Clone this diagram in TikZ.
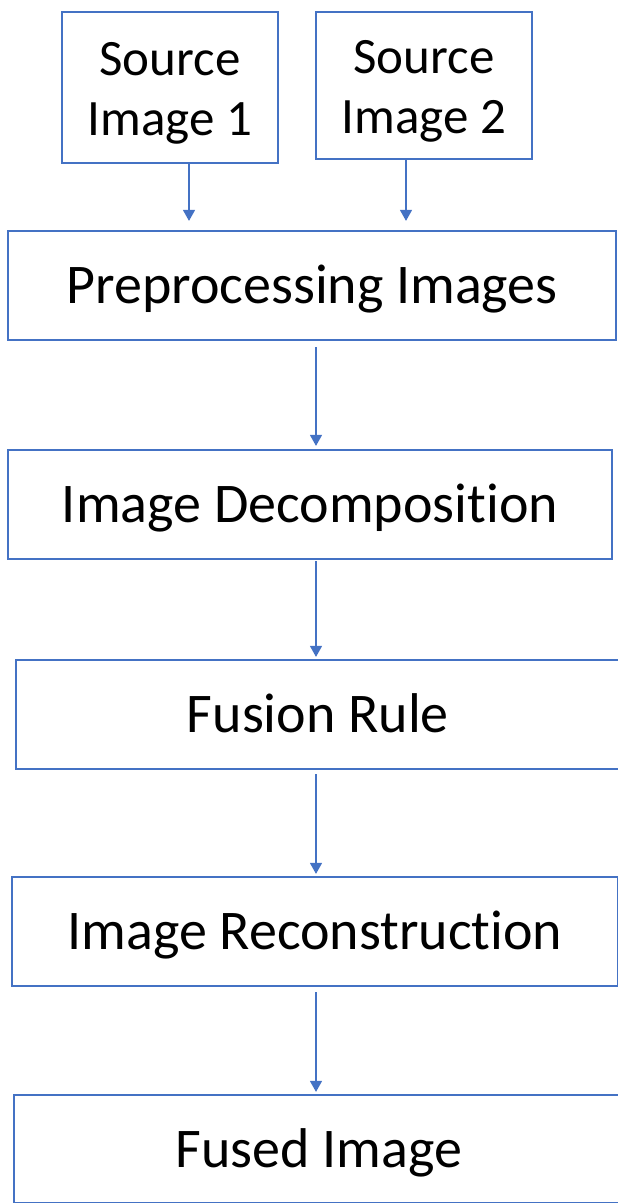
\documentclass[tikz,border=0pt]{standalone}
\usepackage{fontspec}
\setmainfont[RawFeature=-liga]{Carlito}
\usetikzlibrary{arrows.meta}
\definecolor{boxblue}{HTML}{4472C4}
\begin{document}
\begin{tikzpicture}[x=1pt,y=-1pt,
  box/.style={draw=boxblue,line width=2.2pt,inner sep=0pt,align=center,
    font=\fontsize{56}{58}\selectfont,text=black,text height=36pt,text depth=0pt},
  srcbox/.style={box,font=\fontsize{51}{60}\selectfont,minimum width=216pt,
    text height=95pt,text depth=0pt},
  arr/.style={draw=boxblue,line width=1.2pt,-{Triangle[width=12pt,length=11pt]}}]
\useasboundingbox (0,0) rectangle (618,1203);
\node[srcbox,minimum height=151pt] (src1) at (170,87.5) {Source\\Image 1};
\node[srcbox,minimum height=147pt] (src2) at (424,85.5) {Source\\Image 2};
\node[box,minimum width=608pt,minimum height=109pt] (pre) at (312,285.5) {Preprocessing Images};
\node[box,minimum width=604pt,minimum height=109pt] (dec) at (310,504.5) {Image Decomposition};
\node[box,minimum width=604pt,minimum height=109pt] (fus) at (318,714.5) {Fusion Rule};
\node[box,minimum width=606pt,minimum height=109pt] (rec) at (315,931.5) {Image Reconstruction};
\node[box,minimum width=610pt,minimum height=108pt] (out) at (319,1149) {Fused Image};
\coordinate (a1) at (189,0);
\coordinate (a2) at (406,0);
\coordinate (c) at (316,0);
\draw[arr,shorten >=9pt] (a1 |- src1.south) -- (a1 |- pre.north);
\draw[arr,shorten >=9pt] (a2 |- src2.south) -- (a2 |- pre.north);
\draw[arr,shorten <=6pt,shorten >=3pt] (c |- pre.south) -- (c |- dec.north);
\draw[arr,shorten <=1pt,shorten >=2pt] (c |- dec.south) -- (c |- fus.north);
\draw[arr,shorten <=4pt,shorten >=2pt] (c |- fus.south) -- (c |- rec.north);
\draw[arr,shorten <=5pt,shorten >=2pt] (c |- rec.south) -- (c |- out.north);
\end{tikzpicture}
\end{document}
